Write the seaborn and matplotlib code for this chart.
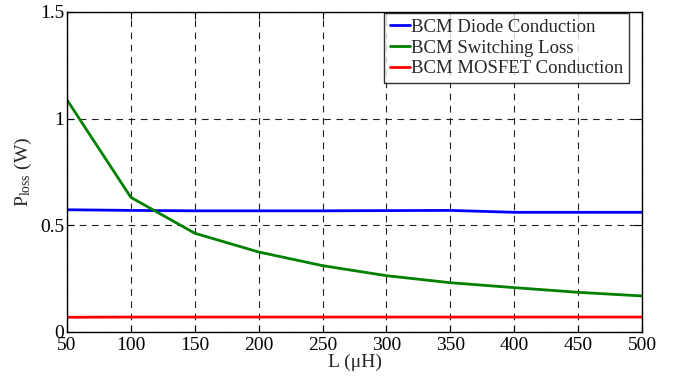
import matplotlib
matplotlib.use("Agg")
import matplotlib.pyplot as plt
import seaborn as sns
import pandas as pd

L_uH = [50, 100, 150, 200, 250, 300, 350, 400, 450, 500]
diode = [0.573, 0.570, 0.568, 0.568, 0.568, 0.569, 0.570, 0.561, 0.561, 0.561]
switching = [1.088, 0.631, 0.463, 0.375, 0.311, 0.264, 0.231, 0.208, 0.186, 0.169]
mosfet = [0.069, 0.070, 0.070, 0.070, 0.070, 0.070, 0.070, 0.070, 0.070, 0.070]
series_names = ["BCM Diode Conduction", "BCM Switching Loss", "BCM MOSFET Conduction"]
colors = ["#0000ff", "#008000", "#ff0000"]
x_ticks = [50, 100, 150, 200, 250, 300, 350, 400, 450, 500]
y_ticks = [0, 0.5, 1, 1.5]

df = pd.DataFrame({
    "L": L_uH * 3,
    "P": diode + switching + mosfet,
    "series": [series_names[0]] * 10 + [series_names[1]] * 10 + [series_names[2]] * 10,
})

sns.set_style("white")
plt.rcParams["font.family"] = ["Liberation Serif", "DejaVu Serif"]
plt.rcParams["mathtext.fontset"] = "custom"
plt.rcParams["mathtext.rm"] = "Liberation Serif"
plt.rcParams["mathtext.it"] = "Liberation Serif:italic"

fig = plt.figure(figsize=(6.76, 3.77), dpi=100)
ax = fig.add_axes([67 / 676, 45 / 377, 575 / 676, 320 / 377])

sns.lineplot(data=df, x="L", y="P", hue="series", hue_order=series_names,
             palette=colors, linewidth=2, ax=ax, legend=True)

ax.set_xlim(50, 500)
ax.set_ylim(0, 1.5)
ax.set_xticks(x_ticks)
ax.set_xticklabels([str(v) for v in x_ticks])
ax.set_yticks(y_ticks)
ax.set_yticklabels(["0", "0.5", "1", "1.5"])
ax.grid(True, color="#222222", linestyle=(0, (6, 5)), linewidth=0.8)
ax.tick_params(direction="in", length=5, labelsize=14, colors="black",
               top=True, right=True, bottom=True, left=True, pad=2)
ax.tick_params(axis="x", pad=3.5)
for s in ax.spines.values():
    s.set_color("black")
    s.set_linewidth(1.0)

ax.set_xlabel("L (\u03bcH)", fontsize=14, labelpad=0)
ax.set_ylabel(r"P$_{\mathrm{loss}}$ (W)", fontsize=14, labelpad=4)

leg = ax.legend(loc="upper right", bbox_to_anchor=(0.978, 0.997), fontsize=13.5,
                frameon=True, fancybox=False, edgecolor="black",
                handlelength=1.05, handletextpad=0.1, borderpad=0.3,
                labelspacing=0.2, borderaxespad=0)
leg.get_frame().set_linewidth(1.0)

fig.savefig("out.png", dpi=100)
